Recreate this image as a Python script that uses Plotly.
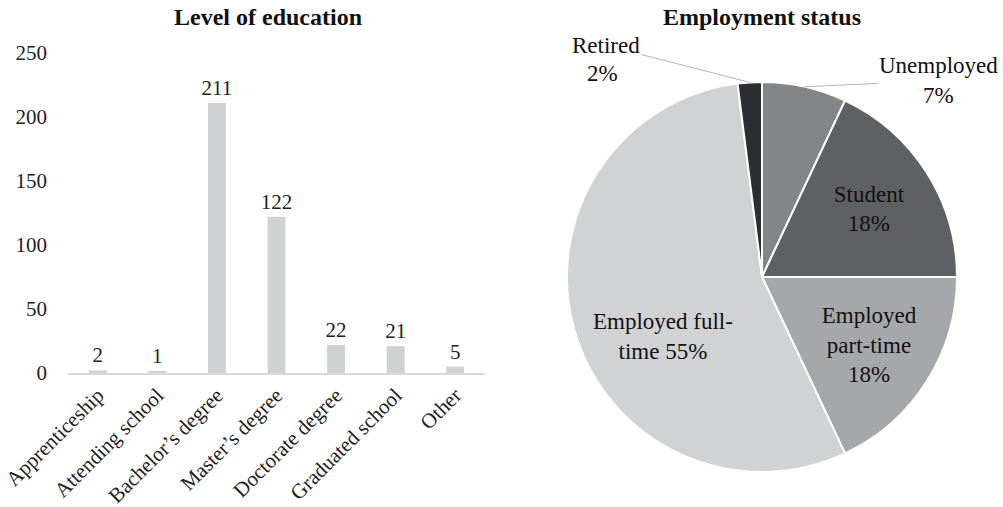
import math
import plotly.graph_objects as go

# Level of education (counts)
edu_categories = ["Apprenticeship", "Attending school", "Bachelor\u2019s degree",
                  "Master\u2019s degree", "Doctorate degree", "Graduated school", "Other"]
edu_counts = [2, 1, 211, 122, 22, 21, 5]
edu_ticks = [0, 50, 100, 150, 200, 250]

# Employment status (percent), clockwise from 12 o'clock
emp_labels = ["Unemployed", "Student", "Employed part-time", "Employed full-time", "Retired"]
emp_share = [7, 18, 18, 55, 2]
emp_text = ["", "Student<br>18%", "Employed<br>part-time<br>18%", "", ""]
emp_colors = ["#838588", "#5f6064", "#a6a7aa", "#d1d2d4", "#2d2e32"]

W, H = 1003, 507
FONT = "Liberation Serif"

bar_dom_x = [68 / W, 485 / W]
bar_dom_y = [1 - 373 / H, 1 - 53 / H]
pie_dom_x = [567 / W, 957 / W]
pie_dom_y = [1 - 472 / H, 1 - 82 / H]

fig = go.Figure()

fig.add_trace(go.Bar(
    x=edu_categories, y=edu_counts,
    marker=dict(color="#d0d1d3", line=dict(width=0)),
    text=[str(v) for v in edu_counts], textposition="outside", constraintext="none",
    textfont=dict(family=FONT, size=21, color="#222"),
    cliponaxis=False, xaxis="x", yaxis="y", showlegend=False,
))

fig.add_trace(go.Pie(
    labels=emp_labels, values=emp_share, text=emp_text,
    textinfo="text", texttemplate="%{text}",
    textposition=["none", "inside", "inside", "none", "none"],
    insidetextorientation="horizontal",
    textfont=dict(family=FONT, size=23, color="#111"),
    insidetextfont=dict(family=FONT, size=23, color="#111"),
    marker=dict(colors=emp_colors, line=dict(color="white", width=2)),
    sort=False, direction="clockwise", rotation=0,
    domain=dict(x=pie_dom_x, y=pie_dom_y), showlegend=False, hoverinfo="label+percent",
))

# Pie geometry in pixels, used to anchor the outside labels' leader lines
cx = (pie_dom_x[0] + pie_dom_x[1]) / 2 * W
cy = (1 - (pie_dom_y[0] + pie_dom_y[1]) / 2) * H
rad = min((pie_dom_x[1] - pie_dom_x[0]) * W, (pie_dom_y[1] - pie_dom_y[0]) * H) / 2
total = sum(emp_share)


def rim_point(idx):
    start = sum(emp_share[:idx])
    mid = (start + emp_share[idx] / 2) / total * 2 * math.pi
    px = cx + rad * math.sin(mid)
    py = cy - rad * math.cos(mid)
    return px / W, 1 - py / H


def px_to_paper(px, py):
    return px / W, 1 - py / H


ux, uy = rim_point(0)
rx, ry = rim_point(4)
fx, fy = px_to_paper(663, 336)

txt = dict(family=FONT, size=23, color="#111")
ttl = dict(family=FONT, size=24, color="#111")

annotations = [
    dict(text="<b>Level of education</b>", x=(bar_dom_x[0] + bar_dom_x[1]) / 2 - 0.008, y=1 - 17 / H,
         xref="paper", yref="paper", xanchor="center", yanchor="middle", showarrow=False, font=ttl),
    dict(text="<b>Employment status</b>", x=cx / W, y=1 - 17 / H,
         xref="paper", yref="paper", xanchor="center", yanchor="middle", showarrow=False, font=ttl),
    dict(text="Employed full-<br>time %d%%" % emp_share[3], x=fx, y=fy, xref="paper", yref="paper",
         xanchor="center", yanchor="middle", showarrow=False, font=txt),
    dict(text="Unemployed<br>%d%%" % emp_share[0], x=ux, y=uy, xref="paper", yref="paper",
         ax=134, ay=-6, showarrow=True, arrowhead=0, arrowwidth=1, arrowcolor="#b5b5b5", font=txt),
    dict(text="Retired", x=rx, y=ry, xref="paper", yref="paper",
         ax=-144, ay=-37, showarrow=True, arrowhead=0, arrowwidth=1, arrowcolor="#b5b5b5", font=txt),
    dict(text="%d%%" % emp_share[4], x=rx, y=ry, xref="paper", yref="paper",
         xanchor="center", yanchor="middle", showarrow=False, xshift=-147, yshift=9, font=txt),
]

fig.update_layout(
    width=W, height=H, margin=dict(l=0, r=0, t=0, b=0, autoexpand=False),
    paper_bgcolor="white", plot_bgcolor="white",
    bargap=0.7,
    xaxis=dict(domain=bar_dom_x, showgrid=False, showline=True, linecolor="#d9d9d9", linewidth=1.5,
               ticks="", tickangle=-45, tickfont=dict(family=FONT, size=21, color="#222"),
               automargin=False, fixedrange=True),
    yaxis=dict(domain=bar_dom_y, range=[0, 250], tickvals=edu_ticks, showgrid=False, showline=False,
               zeroline=False, ticks="", ticklen=0, ticklabelstandoff=20,
               tickfont=dict(family=FONT, size=21, color="#222"),
               automargin=False, fixedrange=True),
    annotations=annotations,
)

fig.write_html("out.html")
